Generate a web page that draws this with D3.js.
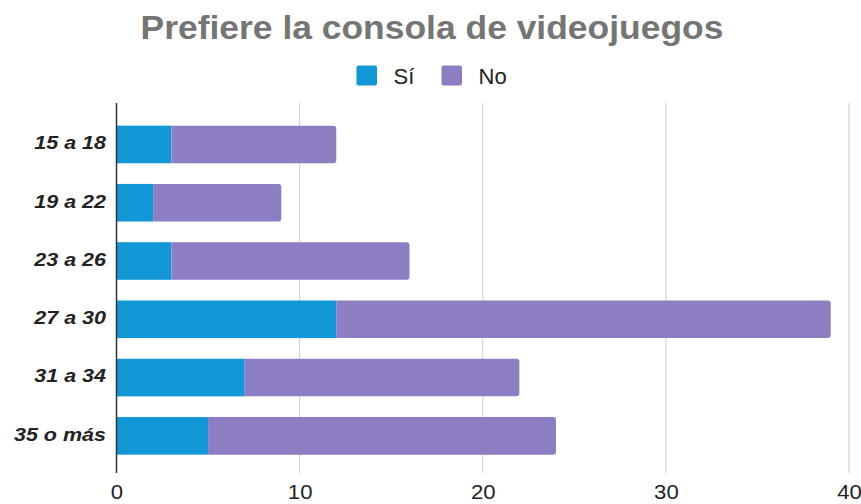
<!DOCTYPE html>
<html><head><meta charset="utf-8">
<script src="https://cdn.jsdelivr.net/npm/d3@7"></script>
<style>body{margin:0;background:#fff}svg{display:block}</style>
</head><body>
<script>
const categories = ["15 a 18","19 a 22","23 a 26","27 a 30","31 a 34","35 o más"];
const si = [3,2,3,12,7,5];
const no = [9,7,13,27,15,19];
const seriesNames = ["Sí","No"];
const xTicks = [0,10,20,30,40];
const colors = ["#1197d6","#8d7dc3"];

const FONT="Arial, 'Liberation Sans', sans-serif";
const W=861,H=504;
const svg=d3.select("body").append("svg").attr("width",W).attr("height",H);
const x=d3.scaleLinear().domain([0,40]).range([116.5,849]);
const y=d3.scaleBand().domain(categories).range([115.3,465]).paddingInner(0.355).paddingOuter(0.1775);

function stretch(sel,f){
  sel.each(function(){const w=this.getComputedTextLength();
    d3.select(this).attr("textLength",w*f).attr("lengthAdjust","spacingAndGlyphs");});
}

const title=svg.append("text").attr("x",432).attr("y",38.5).attr("text-anchor","middle")
  .attr("font-family",FONT).attr("font-weight","bold").attr("font-size",32.5)
  .attr("fill","#757575").text("Prefiere la consola de videojuegos");
stretch(title,1.09);

// legend
const leg=[{n:seriesNames[0],c:colors[0],x:356.5},{n:seriesNames[1],c:colors[1],x:441.5}];
leg.forEach(d=>{
  svg.append("rect").attr("x",d.x).attr("y",65.5).attr("width",20.5).attr("height",20).attr("rx",2).attr("fill",d.c);
  svg.append("text").attr("x",d.x+37).attr("y",84).attr("font-family",FONT)
    .attr("font-size",22).attr("fill","#222").text(d.n);
});

// grid
svg.append("g").selectAll("line").data(xTicks.filter(t=>t>0)).join("line")
  .attr("x1",d=>x(d)).attr("x2",d=>x(d)).attr("y1",103).attr("y2",473)
  .attr("stroke","#cccccc").attr("stroke-width",1);

// x axis labels
const xa=d3.axisBottom(x).tickValues(xTicks).tickSize(0).tickPadding(0);
const gx=svg.append("g").attr("transform","translate(0,499)").call(xa);
gx.select(".domain").remove();
gx.selectAll("text").attr("font-family",FONT).attr("font-size",20.5).attr("fill","#222").attr("dy",0).attr("y",0);
stretch(gx.selectAll("text"),1.08);

// bars
const g=svg.append("g");
categories.forEach((c,i)=>{
  const y0=y(c),h=y.bandwidth();
  g.append("rect").attr("x",x(0)).attr("y",y0).attr("width",x(si[i])-x(0)).attr("height",h).attr("fill",colors[0]);
  const xs=x(si[i]),xe=x(si[i]+no[i]),r=3;
  g.append("path").attr("d",`M${xs},${y0}H${xe-r}Q${xe},${y0} ${xe},${y0+r}V${y0+h-r}Q${xe},${y0+h} ${xe-r},${y0+h}H${xs}Z`).attr("fill",colors[1]);
});

// y axis
svg.append("line").attr("x1",x(0)).attr("x2",x(0)).attr("y1",103).attr("y2",473).attr("stroke","#333").attr("stroke-width",1.5);
const ya=d3.axisLeft(y).tickSize(0).tickPadding(10.5);
const gy=svg.append("g").attr("transform",`translate(${x(0)},0)`).call(ya);
gy.select(".domain").remove();
gy.selectAll("text").attr("font-family",FONT).attr("font-size",18.7)
  .attr("font-weight","bold").attr("font-style","italic").attr("fill","#222").attr("dy","0.26em");
stretch(gy.selectAll("text"),1.15);
</script>
</body></html>
